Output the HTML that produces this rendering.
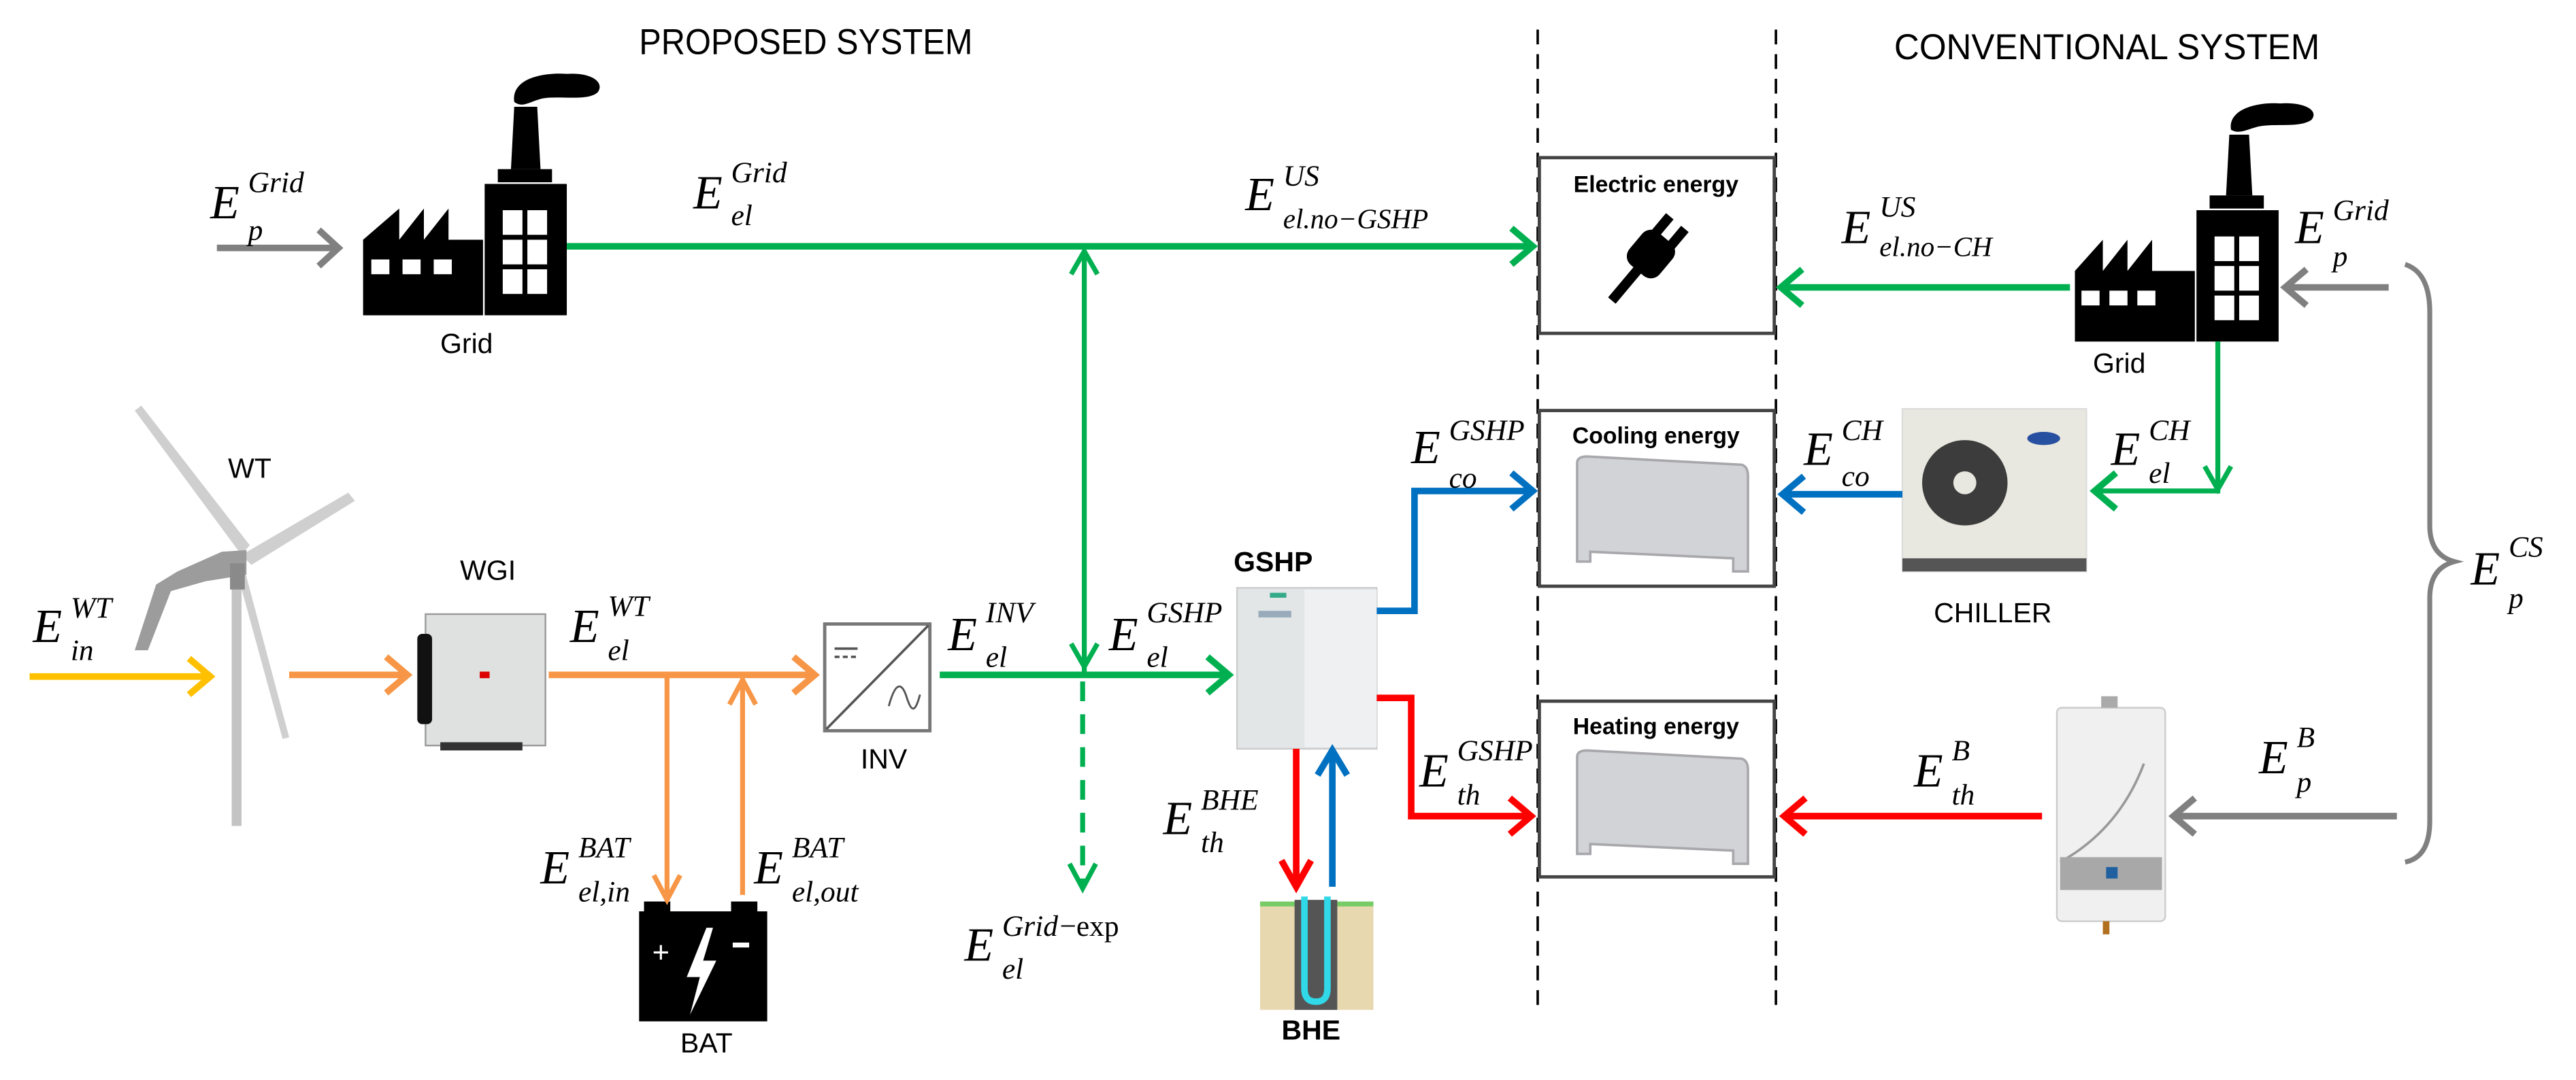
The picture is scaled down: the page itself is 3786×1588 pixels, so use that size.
<!DOCTYPE html>
<html><head><meta charset="utf-8"><style>
html,body{margin:0;padding:0;background:#fff;}
svg{display:block;}
.t{font-family:"Liberation Sans",sans-serif;fill:#000;}
.m{font-family:"Liberation Serif",serif;font-style:italic;fill:#000;}
</style></head><body>
<svg width="3786" height="1588" viewBox="0 0 1568 657.7" xmlns="http://www.w3.org/2000/svg">
<style>
.g{stroke:#00b050;fill:none}
.o{stroke:#f79646;fill:none}
.b{stroke:#0070c0;fill:none}
.r{stroke:#ff0000;fill:none}
.gr{stroke:#808080;fill:none}
.y{stroke:#ffc000;fill:none}
</style>

<!-- titles -->
<text class="t" x="389" y="33" font-size="22" textLength="203" lengthAdjust="spacingAndGlyphs">PROPOSED SYSTEM</text>
<text class="t" x="1153" y="36" font-size="22" textLength="259" lengthAdjust="spacingAndGlyphs">CONVENTIONAL SYSTEM</text>

<!-- dashed lines -->
<line x1="936" y1="18" x2="936" y2="618" stroke="#000" stroke-width="1.5" stroke-dasharray="9,6"/>
<line x1="1081" y1="18" x2="1081" y2="618" stroke="#000" stroke-width="1.5" stroke-dasharray="9,6"/>

<!-- boxes -->
<g stroke="#444" fill="#fff">
<rect x="937" y="96" width="143" height="107" stroke-width="2"/>
<rect x="937" y="250" width="143" height="107" stroke-width="2"/>
<rect x="937" y="427" width="143" height="107" stroke-width="2"/>
</g>
<text class="t" x="1008" y="117" font-size="14" font-weight="bold" text-anchor="middle">Electric energy</text>
<text class="t" x="1008" y="270" font-size="14" font-weight="bold" text-anchor="middle">Cooling energy</text>
<text class="t" x="1008" y="447" font-size="14" font-weight="bold" text-anchor="middle">Heating energy</text>
<!-- plug -->
<g transform="translate(1003,157) rotate(40)">
<rect x="-12" y="-16" width="24" height="26" rx="7" fill="#000"/>
<rect x="-9" y="-28" width="6" height="14" fill="#000"/><rect x="3" y="-28" width="6" height="14" fill="#000"/>
<rect x="-3" y="8" width="6" height="26" fill="#000"/>
</g>
<!-- fancoils -->
<g fill="#d2d3d7" stroke="#a8a8ac" stroke-width="1.5">
<path d="M960,282 Q960,278 966,278 L1060,283 Q1064,284 1064,290 L1064,348 L1055,348 L1055,340 L968,336 L968,342 L960,342 Z"/>
<path d="M960,461 Q960,457 966,457 L1060,462 Q1064,463 1064,469 L1064,526 L1055,526 L1055,518 L968,514 L968,520 L960,520 Z"/>
</g>

<!-- left grid factory -->
<g fill="#000">
<path d="M221,192 L221,146 L243,127 L243,146 L258,127 L258,146 L273,127 L273,146 L294,146 L294,192 Z"/>
<rect x="295" y="112" width="50" height="80"/>
<rect x="303" y="103" width="33" height="8"/>
<path d="M311,103 L313,65 L327,65 L329,103 Z"/>
<path d="M313,62 C311,48 330,44 345,45 C360,44 368,50 364,56 C358,62 340,58 330,60 C322,62 318,66 313,62 Z"/>
</g>
<g fill="#fff">
<rect x="226" y="158" width="11" height="9"/><rect x="245" y="158" width="11" height="9"/><rect x="264" y="158" width="11" height="9"/>
<rect x="306" y="128" width="12" height="15"/><rect x="321" y="128" width="12" height="15"/>
<rect x="306" y="146" width="12" height="15"/><rect x="321" y="146" width="12" height="15"/>
<rect x="306" y="164" width="12" height="15"/><rect x="321" y="164" width="12" height="15"/>
</g>
<text class="t" x="284" y="215" font-size="17" text-anchor="middle">Grid</text>

<!-- right grid factory -->
<g fill="#000">
<path d="M1263,208 L1263,165 L1280,146 L1280,165 L1295,146 L1295,165 L1310,146 L1310,165 L1336,165 L1336,208 Z"/>
<rect x="1337" y="128" width="50" height="80"/>
<rect x="1345" y="119" width="33" height="8"/>
<path d="M1355,119 L1357,82 L1369,82 L1371,119 Z"/>
<path d="M1358,79 C1356,66 1375,62 1388,63 C1402,62 1412,67 1407,73 C1400,78 1385,75 1375,77 C1367,79 1363,82 1358,79 Z"/>
</g>
<g fill="#fff">
<rect x="1267" y="177" width="11" height="9"/><rect x="1284" y="177" width="11" height="9"/><rect x="1301" y="177" width="11" height="9"/>
<rect x="1348" y="144" width="12" height="15"/><rect x="1363" y="144" width="12" height="15"/>
<rect x="1348" y="162" width="12" height="15"/><rect x="1363" y="162" width="12" height="15"/>
<rect x="1348" y="180" width="12" height="15"/><rect x="1363" y="180" width="12" height="15"/>
</g>
<text class="t" x="1290" y="227" font-size="17" text-anchor="middle">Grid</text>

<!-- wind turbine -->
<rect x="141" y="355" width="6" height="148" fill="#c4c4c4"/>
<g fill="#cfcfcf">
<path d="M147,338 L82,250 L86,247 L152,332 Z"/>
<path d="M147,338 L212,300 L216,305 L153,344 Z"/>
<path d="M147,340 L176,449 L172,450 L143,344 Z"/>
</g>
<path d="M150,335 L135,336 L108,348 L95,356 L82,396 L90,396 L104,360 L125,354 L150,350 Z" fill="#9c9c9c"/>
<rect x="140" y="343" width="9" height="16" fill="#8a8a8a"/>
<text class="t" x="152" y="291" font-size="17" text-anchor="middle">WT</text>

<!-- WGI -->
<rect x="259" y="374" width="73" height="80" fill="#dfe1e1" stroke="#999"/>
<rect x="254" y="386" width="9" height="55" rx="3" fill="#111"/>
<rect x="268" y="452" width="50" height="5" fill="#333"/>
<rect x="292" y="409" width="6" height="4" fill="#d00"/>
<text class="t" x="297" y="353" font-size="17" text-anchor="middle">WGI</text>

<!-- INV -->
<rect x="502" y="380" width="64" height="65" fill="#fff" stroke="#777" stroke-width="2"/>
<line x1="503" y1="444" x2="565" y2="381" stroke="#555" stroke-width="1.5"/>
<line x1="508" y1="395" x2="522" y2="395" stroke="#555" stroke-width="1.5"/>
<line x1="508" y1="400" x2="522" y2="400" stroke="#555" stroke-width="1.5" stroke-dasharray="3,2"/>
<path d="M541,430 C545,415 549,415 552,425 C555,434 557,434 560,423" fill="none" stroke="#555" stroke-width="1.2"/>
<text class="t" x="538" y="468" font-size="17" text-anchor="middle">INV</text>

<!-- Battery -->
<rect x="389" y="555" width="78" height="67" fill="#000"/>
<rect x="392" y="549" width="16" height="8" fill="#000"/><rect x="445" y="549" width="16" height="8" fill="#000"/>
<text x="397" y="586" font-size="18" fill="#fff" font-family="Liberation Sans">+</text>
<rect x="446" y="574" width="10" height="3" fill="#fff"/>
<path d="M430,565 L418,595 L426,595 L420,618 L436,585 L428,585 L434,565 Z" fill="#fff"/>
<text class="t" x="430" y="641" font-size="17" text-anchor="middle">BAT</text>

<!-- GSHP -->
<rect x="753" y="358" width="85" height="98" fill="#e2e6e6" stroke="#ccc"/>
<rect x="794" y="359" width="44" height="96" fill="#eef0f2"/>
<rect x="773" y="361" width="10" height="3" fill="#3a8"/>
<rect x="766" y="372" width="20" height="4" fill="#9ab"/>
<text class="t" x="775" y="348" font-size="17" font-weight="bold" text-anchor="middle">GSHP</text>

<!-- BHE -->
<rect x="767" y="551" width="69" height="64" fill="#e8d8b0"/>
<rect x="767" y="549" width="69" height="3" fill="#7c6"/>
<rect x="788" y="548" width="26" height="67" fill="#555"/>
<path d="M794,546 L794,602 Q794,610 801,610 Q808,610 808,602 L808,546" fill="none" stroke="#30d8e8" stroke-width="4"/>
<text class="t" x="798" y="633" font-size="17" font-weight="bold" text-anchor="middle">BHE</text>

<!-- chiller -->
<rect x="1158" y="249" width="112" height="99" fill="#e8e8e0" stroke="#ddd"/>
<rect x="1158" y="340" width="112" height="8" fill="#555"/>
<circle cx="1196" cy="294" r="26" fill="#3c3c3c"/>
<circle cx="1196" cy="294" r="7" fill="#e8e8e0"/>
<ellipse cx="1244" cy="267" rx="10" ry="4" fill="#2850a0"/>
<text class="t" x="1213" y="379" font-size="17" text-anchor="middle">CHILLER</text>

<!-- boiler -->
<rect x="1252" y="431" width="66" height="130" rx="3" fill="#f0f0f0" stroke="#ccc"/>
<path d="M1254,525 Q1290,505 1305,465" fill="none" stroke="#999" stroke-width="1.5"/>
<rect x="1254" y="522" width="62" height="20" fill="#a8a8a8"/>
<rect x="1282" y="528" width="7" height="7" fill="#2060a0"/>
<rect x="1279" y="424" width="10" height="7" fill="#aaa"/>
<rect x="1280" y="561" width="4" height="8" fill="#b07020"/>

<!-- ARROWS -->
<g stroke-width="4" stroke-linecap="butt">
<line class="gr" x1="132" y1="151" x2="206" y2="151"/><path class="gr" d="M194,140 L206,151 L194,162"/>
<line class="g" x1="345" y1="150" x2="933" y2="150"/><path class="g" d="M920,139 L933,150 L920,161"/>
<line class="g" x1="660" y1="153" x2="660" y2="410" stroke-width="3"/>
<path class="g" d="M652,167 L660,153 L668,167" stroke-width="3"/>
<path class="g" d="M652,392 L660,406 L668,392" stroke-width="3"/>
<line class="g" x1="659" y1="415" x2="659" y2="540" stroke-width="3" stroke-dasharray="12,8"/>
<path class="g" d="M651,526 L659,541 L667,526" stroke-width="3"/>
<line class="y" x1="18" y1="412" x2="128" y2="412"/><path class="y" d="M115,401 L128,412 L115,423"/>
<line class="o" x1="176" y1="411" x2="248" y2="411"/><path class="o" d="M235,400 L248,411 L235,422"/>
<line class="o" x1="334" y1="411" x2="496" y2="411"/><path class="o" d="M483,400 L496,411 L483,422"/>
<line class="o" x1="406" y1="411" x2="406" y2="547" stroke-width="3"/><path class="o" d="M398,533 L406,548 L414,533" stroke-width="3"/>
<line class="o" x1="452" y1="545" x2="452" y2="415" stroke-width="3"/><path class="o" d="M444,429 L452,414 L460,429" stroke-width="3"/>
<line class="g" x1="572" y1="411" x2="748" y2="411"/><path class="g" d="M735,400 L748,411 L735,422"/>
<path class="b" d="M838,372 L861,372 L861,299 L933,299"/><path class="b" d="M920,288 L933,299 L920,310"/>
<path class="r" d="M838,425 L859,425 L859,497 L932,497"/><path class="r" d="M919,486 L932,497 L919,508"/>
<line class="r" x1="789" y1="456" x2="789" y2="538"/><path class="r" d="M780,524 L789,540 L798,524"/>
<line class="b" x1="811" y1="540" x2="811" y2="458"/><path class="b" d="M802,472 L811,457 L820,472"/>
<line class="g" x1="1260" y1="175" x2="1084" y2="175"/><path class="g" d="M1097,164 L1084,175 L1097,186"/>
<line class="gr" x1="1454" y1="175" x2="1391" y2="175"/><path class="gr" d="M1404,164 L1391,175 L1404,186"/>
<path class="g" d="M1350,208 L1350,299 L1275,299" stroke-width="3"/><path class="g" d="M1342,284 L1350,298 L1358,284" stroke-width="3"/><path class="g" d="M1288,288 L1275,299 L1288,310"/>
<line class="b" x1="1158" y1="301" x2="1085" y2="301"/><path class="b" d="M1098,290 L1085,301 L1098,312"/>
<line class="r" x1="1243" y1="497" x2="1086" y2="497"/><path class="r" d="M1099,486 L1086,497 L1099,508"/>
<line class="gr" x1="1459" y1="497" x2="1323" y2="497"/><path class="gr" d="M1336,486 L1323,497 L1336,508"/>
</g>
<!-- brace -->
<path d="M1464,161 Q1479,166 1479,190 L1479,320 Q1479,338 1494,342 Q1479,346 1479,364 L1479,500 Q1479,522 1464,525" fill="none" stroke="#808080" stroke-width="3"/>

<!-- MATH LABELS -->
<g class="m">
<text x="128" y="133" font-size="29">E</text><text x="151" y="117" font-size="18">Grid</text><text x="151" y="146" font-size="18">p</text>
<text x="422" y="127" font-size="29">E</text><text x="445" y="111" font-size="18">Grid</text><text x="445" y="137" font-size="18">el</text>
<text x="758" y="128" font-size="29">E</text><text x="781" y="113" font-size="18">US</text><text x="781" y="139" font-size="17">el.no−GSHP</text>
<text x="1121" y="148" font-size="29">E</text><text x="1144" y="132" font-size="18">US</text><text x="1144" y="156" font-size="17">el.no−CH</text>
<text x="1397" y="148" font-size="29">E</text><text x="1420" y="134" font-size="18">Grid</text><text x="1420" y="162" font-size="18">p</text>
<text x="859" y="282" font-size="29">E</text><text x="882" y="268" font-size="18">GSHP</text><text x="882" y="297" font-size="18">co</text>
<text x="1098" y="283" font-size="29">E</text><text x="1121" y="268" font-size="18">CH</text><text x="1121" y="296" font-size="18">co</text>
<text x="1285" y="283" font-size="29">E</text><text x="1308" y="268" font-size="18">CH</text><text x="1308" y="294" font-size="18">el</text>
<text x="1504" y="356" font-size="29">E</text><text x="1527" y="339" font-size="18">CS</text><text x="1527" y="370" font-size="18">p</text>
<text x="20" y="391" font-size="29">E</text><text x="43" y="376" font-size="18">WT</text><text x="43" y="402" font-size="18">in</text>
<text x="347" y="391" font-size="29">E</text><text x="370" y="375" font-size="18">WT</text><text x="370" y="402" font-size="18">el</text>
<text x="577" y="396" font-size="29">E</text><text x="600" y="379" font-size="18">INV</text><text x="600" y="406" font-size="18">el</text>
<text x="675" y="396" font-size="29">E</text><text x="698" y="379" font-size="18">GSHP</text><text x="698" y="406" font-size="18">el</text>
<text x="708" y="508" font-size="29">E</text><text x="731" y="493" font-size="18">BHE</text><text x="731" y="519" font-size="18">th</text>
<text x="864" y="479" font-size="29">E</text><text x="887" y="463" font-size="18">GSHP</text><text x="887" y="490" font-size="18">th</text>
<text x="1165" y="479" font-size="29">E</text><text x="1188" y="463" font-size="18">B</text><text x="1188" y="490" font-size="18">th</text>
<text x="1375" y="471" font-size="29">E</text><text x="1398" y="455" font-size="18">B</text><text x="1398" y="482" font-size="18">p</text>
<text x="329" y="538" font-size="29">E</text><text x="352" y="522" font-size="18">BAT</text><text x="352" y="549" font-size="18">el,in</text>
<text x="459" y="538" font-size="29">E</text><text x="482" y="522" font-size="18">BAT</text><text x="482" y="549" font-size="18">el,out</text>
<text x="587" y="585" font-size="29">E</text><text x="610" y="570" font-size="18">Grid</text><text x="645" y="570" font-size="18" font-style="normal">−exp</text><text x="610" y="596" font-size="18">el</text>
</g>
</svg>
</body></html>
